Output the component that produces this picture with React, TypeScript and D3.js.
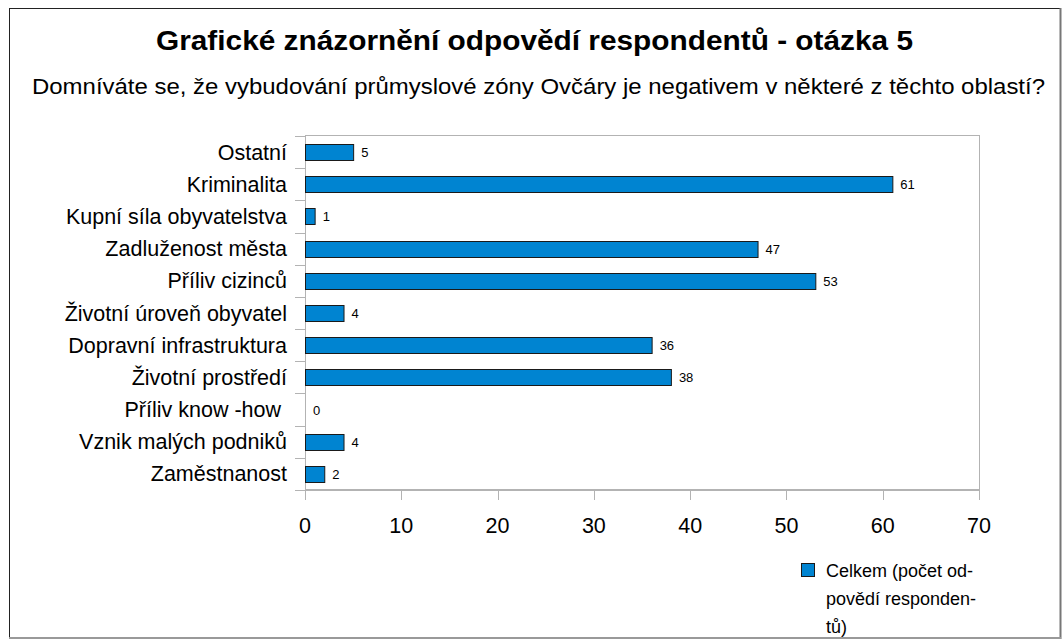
import React, { useEffect, useRef } from "react";
import * as d3 from "d3";

const categories = [
  "Ostatní",
  "Kriminalita",
  "Kupní síla obyvatelstva",
  "Zadluženost města",
  "Příliv cizinců",
  "Životní úroveň obyvatel",
  "Dopravní infrastruktura",
  "Životní prostředí",
  "Příliv know -how ",
  "Vznik malých podniků",
  "Zaměstnanost",
];
const values = [5, 61, 1, 47, 53, 4, 36, 38, 0, 4, 2];
const xTicks = [0, 10, 20, 30, 40, 50, 60, 70];
const title = "Grafické znázornění odpovědí respondentů - otázka 5";
const subtitle =
  "Domníváte se, že vybudování průmyslové zóny Ovčáry je negativem v některé z těchto oblastí?";
const legendLines = ["Celkem (počet od-", "povědí responden-", "tů)"];

const W = 1064;
const H = 639;
const FONT = "'Liberation Sans', Arial, sans-serif";

export default function App() {
  const ref = useRef<SVGSVGElement | null>(null);

  useEffect(() => {
    const svg = d3.select(ref.current);
    svg.selectAll("*").remove();

    const left = 305, right = 979, top = 136, bottom = 490;
    const x = d3.scaleLinear().domain([0, 70]).range([left, right]);
    const y = d3
      .scaleBand<string>()
      .domain(categories)
      .range([top, bottom])
      .paddingInner(0.5)
      .paddingOuter(0.25);
    const yb = d3.scaleBand<string>().domain(categories).range([top, bottom]);

    svg.append("rect").attr("width", W).attr("height", H).attr("fill", "#fff");

    // outer frame
    svg.append("line").attr("x1", 9.5).attr("x2", 9.5).attr("y1", 8).attr("y2", H).attr("stroke", "#222");
    svg.append("line").attr("x1", 9).attr("x2", 1061).attr("y1", 8.5).attr("y2", 8.5).attr("stroke", "#222");
    svg.append("line").attr("x1", 1060.5).attr("x2", 1060.5).attr("y1", 8).attr("y2", H).attr("stroke", "#777").attr("stroke-width", 2);
    svg.append("line").attr("x1", 9).attr("x2", 1061).attr("y1", 638).attr("y2", 638).attr("stroke", "#999").attr("stroke-width", 2);

    svg
      .append("text")
      .attr("x", 156)
      .attr("y", 50)
      .attr("font-family", FONT)
      .attr("font-weight", "bold")
      .attr("font-size", 28)
      .attr("textLength", 757)
      .attr("lengthAdjust", "spacingAndGlyphs")
      .text(title);
    svg
      .append("text")
      .attr("x", 32)
      .attr("y", 94)
      .attr("font-family", FONT)
      .attr("font-size", 22)
      .attr("textLength", 1013)
      .attr("lengthAdjust", "spacingAndGlyphs")
      .text(subtitle);

    // plot frame
    svg
      .append("rect")
      .attr("x", left + 0.5)
      .attr("y", top - 0.5)
      .attr("width", right - left)
      .attr("height", bottom - top)
      .attr("fill", "none")
      .attr("stroke", "#b3b3b3");

    // y ticks at band boundaries
    const bounds = categories.map((c) => yb(c) as number).concat([bottom]);
    svg
      .append("g")
      .selectAll("line")
      .data(bounds)
      .join("line")
      .attr("x1", left - 10)
      .attr("x2", left)
      .attr("y1", (d) => Math.round(d) + 0.5)
      .attr("y2", (d) => Math.round(d) + 0.5)
      .attr("stroke", "#b3b3b3");

    // x axis line + ticks
    svg
      .append("line")
      .attr("x1", left - 10)
      .attr("x2", right + 1)
      .attr("y1", bottom + 0.5)
      .attr("y2", bottom + 0.5)
      .attr("stroke", "#b3b3b3");
    svg
      .append("g")
      .selectAll("line")
      .data(xTicks)
      .join("line")
      .attr("x1", (d) => Math.round(x(d)) + 0.5)
      .attr("x2", (d) => Math.round(x(d)) + 0.5)
      .attr("y1", bottom)
      .attr("y2", bottom + 10)
      .attr("stroke", "#b3b3b3");
    svg
      .append("g")
      .selectAll("text")
      .data(xTicks)
      .join("text")
      .attr("x", (d) => x(d))
      .attr("y", 533)
      .attr("text-anchor", "middle")
      .attr("font-family", FONT)
      .attr("font-size", 21.5)
      .text((d) => String(d));

    // category labels
    svg
      .append("g")
      .selectAll("text")
      .data(categories)
      .join("text")
      .attr("x", 287)
      .attr("y", (d) => (yb(d) as number) + yb.bandwidth() / 2 + 7.5)
      .attr("text-anchor", "end")
      .attr("font-family", FONT)
      .attr("font-size", 21.5)
      .attr("xml:space", "preserve")
      .style("white-space", "pre")
      .text((d) => d);

    // bars
    svg
      .append("g")
      .selectAll("rect")
      .data(values)
      .join("rect")
      .attr("x", x(0) + 0.5)
      .attr("y", (_, i) => Math.round(y(categories[i]) as number) + 0.5)
      .attr("width", (d) => Math.max(0, x(d) - x(0)))
      .attr("height", Math.round(y.bandwidth()))
      .attr("fill", "#0084d1")
      .attr("stroke", (d) => (d > 0 ? "#1a1a1a" : "none"));

    // value labels
    svg
      .append("g")
      .selectAll("text")
      .data(values)
      .join("text")
      .attr("x", (d) => x(d) + 8)
      .attr("y", (_, i) => (yb(categories[i]) as number) + yb.bandwidth() / 2 + 5)
      .attr("font-family", FONT)
      .attr("font-size", 13)
      .text((d) => String(d));

    // legend
    svg
      .append("rect")
      .attr("x", 801.5)
      .attr("y", 563.5)
      .attr("width", 13)
      .attr("height", 13)
      .attr("fill", "#0084d1")
      .attr("stroke", "#1a1a1a");
    svg
      .append("g")
      .selectAll("text")
      .data(legendLines)
      .join("text")
      .attr("x", 826)
      .attr("y", (_, i) => 577 + i * 28)
      .attr("font-family", FONT)
      .attr("font-size", 18)
      .text((d) => d);
  }, []);

  return (
    <div style={{ position: "absolute", left: 0, top: 0 }}>
      <svg ref={ref} width={W} height={H} style={{ display: "block" }} />
    </div>
  );
}
